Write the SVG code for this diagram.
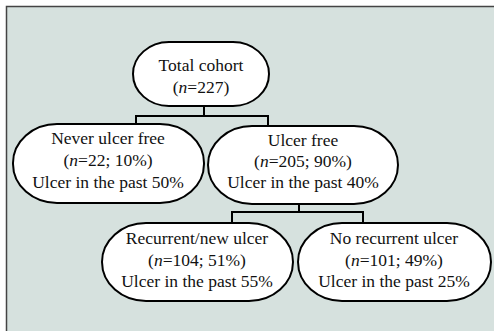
<svg xmlns="http://www.w3.org/2000/svg" width="494" height="331" viewBox="0 0 494 331">
<style>
.node{fill:#fff;stroke:#000;stroke-width:2}
.t{font-family:"Liberation Serif",serif;font-size:17.5px;fill:#111;text-anchor:middle}
.c{fill:none;stroke:#000;stroke-width:2}
</style>
<rect x="0" y="0" width="494" height="331" fill="#fff"/>
<rect x="6.5" y="6.5" width="500" height="340" fill="#d6e1de" stroke="#444" stroke-width="1.5"/>
<g id="connectors">
<path class="c" d="M204,106 V116 M136,125 V116 H268 V126"/>
<path class="c" d="M299,204 V212 M232,223 V212 H363 V223"/>
</g>
<g id="total">
<rect class="node" x="133" y="42" width="136" height="64" rx="36" ry="32"/>
<text class="t" x="201" y="71">Total cohort</text>
<text class="t" x="201" y="93">(<tspan font-style="italic">n</tspan>=227)</text>
</g>
<g id="never">
<rect class="node" x="13" y="124" width="191" height="79" rx="44" ry="39"/>
<text class="t" x="108" y="144">Never ulcer free</text>
<text class="t" x="108" y="166">(<tspan font-style="italic">n</tspan>=22; 10%)</text>
<text class="t" x="108" y="188">Ulcer in the past 50%</text>
</g>
<g id="ulcerfree">
<rect class="node" x="208" y="126" width="190" height="78" rx="44" ry="39"/>
<text class="t" x="303" y="146">Ulcer free</text>
<text class="t" x="303" y="167">(<tspan font-style="italic">n</tspan>=205; 90%)</text>
<text class="t" x="303" y="188">Ulcer in the past 40%</text>
</g>
<g id="recurrent">
<rect class="node" x="102" y="223" width="191" height="78" rx="44" ry="39"/>
<text class="t" x="197" y="244">Recurrent/new ulcer</text>
<text class="t" x="197" y="266">(<tspan font-style="italic">n</tspan>=104; 51%)</text>
<text class="t" x="197" y="287">Ulcer in the past 55%</text>
</g>
<g id="norecurrent">
<rect class="node" x="298" y="223" width="193" height="78" rx="44" ry="39"/>
<text class="t" x="394" y="244">No recurrent ulcer</text>
<text class="t" x="394" y="266">(<tspan font-style="italic">n</tspan>=101; 49%)</text>
<text class="t" x="394" y="287">Ulcer in the past 25%</text>
</g>
</svg>
